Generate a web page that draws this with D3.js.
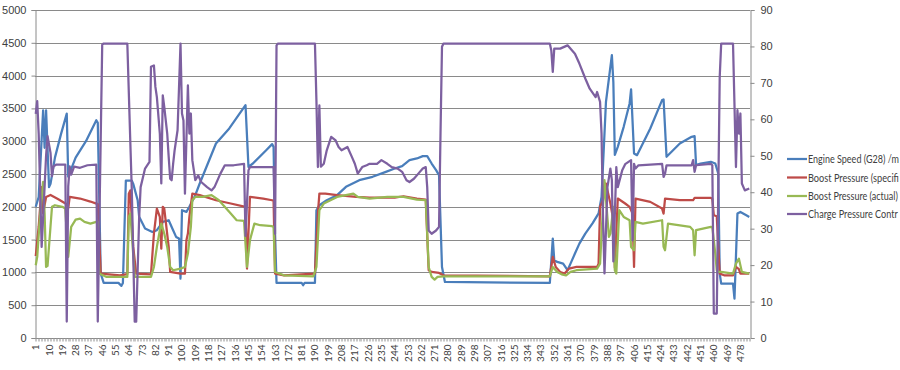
<!DOCTYPE html>
<html>
<head>
<meta charset="utf-8">
<script src="https://cdnjs.cloudflare.com/ajax/libs/d3/7.8.5/d3.min.js"></script>
<style>
  html, body { margin: 0; padding: 0; background: #fff; }
  svg { display: block; font-family: Lato, "Liberation Sans", sans-serif; }
  .lbl { fill: #404040; font-size: 11px; }
  .xlbl { fill: #404040; font-size: 10px; }
</style>
</head>
<body>
<svg id="chart" width="900" height="370"></svg>
<script>
// values: [sample #, value]
const categoryCount = 484;
const xTickLabels = [1, 10, 19, 28, 37, 46, 55, 64, 73, 82, 91, 100, 109, 118, 127, 136, 145, 154, 163, 172, 181, 190,
  199, 208, 217, 226, 235, 244, 253, 262, 271, 280, 289, 298, 307, 316, 325, 334, 343, 352, 361, 370, 379, 388, 397,
  406, 415, 424, 433, 442, 451, 460, 469, 478];
const leftTicks = [0, 500, 1000, 1500, 2000, 2500, 3000, 3500, 4000, 4500, 5000];
const rightTicks = [0, 10, 20, 30, 40, 50, 60, 70, 80, 90];
// legend texts as far as they show before the picture's right edge
const seriesNames = ["Engine Speed (G28)  /m", "Boost Pressure (specifi", "Boost Pressure (actual)", "Charge Pressure Contr"];

const engineSpeed = [[1,2000],[3,2150],[6,3470],[7,2900],[8,3470],[10,2300],[11,2350],[14,2750],[18,3100],[22,3420],
  [23,2460],[28,2750],[35,3000],[42,3320],[43,3280],[45,980],[47,840],[57,840],[59,795],[60,840],[62,2400],[66,2400],
  [67,2350],[70,2100],[71,1850],[75,1670],[80,1617],[83,1643],[87,1770],[91,1795],[94,1643],[96,1541],[98,1516],
  [99,905],[100,1948],[103,1922],[105,2000],[109,2177],[112,2355],[123,2965],[132,3194],[143,3550],[145,2609],
  [148,2660],[157,2863],[161,2955],[162,2914],[163,1592],[164,839],[181,839],[182,804],[183,839],[190,839],[191,1948],
  [193,2024],[198,2100],[205,2177],[211,2304],[220,2406],[229,2457],[238,2533],[244,2584],[249,2620],[254,2711],
  [259,2737],[263,2772],[266,2772],[269,2660],[272,2559],[274,2482],[276,1083],[278,854],[349,839],[351,1516],
  [352,1185],[354,1160],[358,1134],[361,1033],[363,1134],[366,1287],[369,1439],[373,1592],[378,1750],[382,1900],
  [384,2150],[387,3600],[391,4313],[392,3900],[393,2790],[395,2914],[399,3219],[403,3575],[404,3790],[406,2813],
  [408,2787],[417,3194],[425,3626],[426,3636],[428,2762],[437,2965],[445,3067],[447,3077],[448,2635],[451,2660],
  [458,2686],[461,2660],[463,2508],[464,982],[465,829],[473,829],[474,600],[476,1897],[478,1922],[482,1872],[484,1846]];

const boostSpecified = [[1,1250],[3,1700],[5,2300],[6,1900],[8,2150],[11,2180],[16,2120],[22,2040],[23,1980],[24,2150],
  [31,2126],[38,2080],[43,2040],[45,982],[58,956],[63,975],[64,2200],[65,2250],[67,1389],[69,982],[79,971],[81,1592],
  [83,1973],[85,1846],[86,1363],[87,2000],[88,1973],[91,1389],[92,1007],[99,982],[102,982],[103,1490],[104,1592],
  [105,1846],[107,2202],[112,2177],[123,2100],[133,2050],[143,2000],[144,1058],[146,2151],[155,2126],[161,2100],
  [162,2090],[163,982],[169,956],[190,982],[192,1897],[193,2202],[197,2202],[205,2177],[218,2151],[227,2141],
  [244,2141],[250,2161],[259,2126],[265,2110],[267,1033],[269,1007],[274,992],[277,956],[349,941],[351,1236],
  [353,1083],[356,1007],[359,982],[362,1058],[367,1083],[381,1083],[382,1134],[383,2000],[385,2100],[387,2355],
  [390,2050],[392,1795],[393,1070],[395,2126],[400,2050],[403,2000],[405,1897],[406,1083],[407,2126],[417,2075],
  [425,1973],[426,1897],[427,2126],[437,2100],[446,2100],[447,2136],[458,2136],[459,2120],[460,1872],[462,1856],
  [464,982],[467,956],[473,956],[475,1083],[477,1050],[478,982],[484,982]];

const boostActual = [[1,1109],[2,1236],[4,1897],[6,2380],[7,1900],[8,1083],[9,1100],[11,1700],[12,2000],[14,2024],
  [19,2000],[21,1973],[22,1592],[23,1236],[25,1694],[28,1805],[31,1821],[34,1770],[38,1744],[42,1770],[43,1765],
  [44,982],[49,931],[63,931],[64,1846],[65,1897],[66,1600],[68,931],[79,931],[81,1083],[83,1389],[85,1643],[86,1744],
  [88,1592],[90,1389],[92,1083],[94,1033],[99,1058],[102,1083],[104,1287],[106,1694],[107,2100],[109,2151],
  [114,2151],[120,2177],[125,2100],[128,2024],[133,1897],[137,1795],[142,1785],[144,1083],[146,1490],[149,1744],
  [153,1719],[161,1704],[162,1690],[163,1007],[169,956],[189,941],[191,1083],[193,1948],[196,2050],[205,2151],
  [216,2202],[219,2151],[227,2126],[239,2151],[250,2151],[259,2110],[265,2100],[267,1083],[269,931],[271,890],
  [273,931],[277,941],[349,941],[351,1083],[354,1007],[357,971],[360,956],[363,1007],[367,1033],[381,1058],
  [383,1134],[385,2000],[386,2406],[389,1541],[390,1592],[392,2000],[393,1033],[394,982],[396,1948],[399,1846],
  [403,1795],[404,1389],[406,1338],[407,1770],[412,1744],[425,1795],[426,1389],[427,1338],[429,1744],[444,1694],
  [446,1643],[447,1261],[448,1643],[458,1694],[459,1690],[461,1287],[462,1033],[463,1007],[465,1007],[473,982],
  [475,1134],[477,1210],[479,1007],[484,982]];

const chargeControl = [[1,61.5],[2,65],[3,56],[5,25],[6,33],[8,50],[9,55.4],[11,50.8],[12,44.4],[13,47.1],[15,47.6],
  [21,47.6],[22,4.5],[23,41.6],[24,47.1],[25,44.8],[27,47],[31,46.7],[36,47.4],[42,47.6],[43,4.5],[46,80.5],[47,80.8],
  [63,80.8],[65,54],[66,41],[68,4.5],[69,4.5],[71,33],[72,41.4],[75,46.5],[78,48.3],[79,74.4],[81,74.8],[82,68.9],
  [83,66.1],[85,56.1],[86,42.4],[87,66.6],[88,63.4],[90,56.1],[91,49.7],[92,43.7],[93,43.3],[94,47.8],[95,51.5],
  [97,57],[99,80.8],[100,61.6],[101,59.7],[102,39.6],[104,69.3],[105,56.1],[106,61.6],[107,48.8],[109,43.3],
  [111,44.6],[113,42.8],[117,41.4],[120,40.5],[122,41.4],[126,45.1],[129,47.4],[135,47.4],[142,47.8],[143,28],
  [145,46],[146,46.9],[151,46.9],[162,46.9],[163,28.6],[164,80.3],[165,80.8],[190,80.8],[191,65.2],[192,46.9],
  [193,63.8],[194,47],[196,47.8],[198,51.5],[201,55.2],[204,54.2],[206,52.4],[208,51.5],[212,52.4],[215,49.7],
  [217,47.8],[219,45.1],[222,46.9],[225,47.4],[227,47.8],[232,47.8],[235,48.8],[239,47.8],[242,46.9],[246,46.5],
  [249,45.6],[252,43.3],[254,42.8],[257,43.7],[260,45.1],[263,46.5],[265,46.9],[266,41.4],[267,29.5],[269,28.6],
  [272,29.5],[274,30.5],[275,56.1],[276,79.9],[277,80.8],[349,80.8],[350,78.9],[351,73],[352,79.4],[356,79.4],
  [361,80.3],[366,78],[369,75.3],[373,71.2],[376,68.4],[380,66.1],[381,67.5],[383,64.8],[384,56.1],[385,33.2],
  [386,17.7],[388,41.4],[390,46.5],[391,43.3],[392,21],[394,46.9],[395,41.4],[398,46],[400,47.7],[404,48.8],
  [405,26.8],[406,47.8],[407,46.5],[409,47.4],[425,47.8],[426,44.2],[427,45.1],[428,47.4],[445,47.4],[446,48.8],
  [447,45.6],[448,47.4],[458,47.8],[459,47.4],[460,6.7],[462,6.7],[464,71.6],[465,80.8],[473,80.8],[475,46.9],
  [476,62.5],[477,56.1],[478,61.6],[479,42.4],[481,40.5],[484,41]];

const plot = { left: 35, right: 750, top: 10, bottom: 338 };
const svg = d3.select("#chart");

const x = d3.scaleBand().domain(d3.range(1, categoryCount + 1)).range([plot.left, plot.right]).padding(0);
const xc = c => x(c) + x.bandwidth() / 2;
const yL = d3.scaleLinear().domain([0, 5000]).range([plot.bottom, plot.top]);
const yR = d3.scaleLinear().domain([0, 90]).range([plot.bottom, plot.top]);

// gridlines
svg.append("g")
  .selectAll("line")
  .data(leftTicks.filter(t => t > 0))
  .enter()
  .append("line")
  .attr("x1", plot.left).attr("x2", plot.right)
  .attr("y1", d => Math.round(yL(d)) + 0.5).attr("y2", d => Math.round(yL(d)) + 0.5)
  .attr("stroke", "#8a8a8a").attr("stroke-width", 1);

// left axis
const leftAxis = svg.append("g")
  .attr("transform", `translate(${plot.left + 0.5},0)`)
  .call(d3.axisLeft(yL).tickValues(leftTicks).tickSize(4).tickPadding(5).tickFormat(d3.format("d")));
leftAxis.select(".domain").attr("stroke", "#8a8a8a");
leftAxis.selectAll(".tick line").attr("stroke", "#8a8a8a");
leftAxis.selectAll("text").attr("class", "lbl").attr("font-family", null).attr("font-size", null).attr("fill", null);

// right axis
const rightAxis = svg.append("g")
  .attr("transform", `translate(${plot.right + 0.5},0)`)
  .call(d3.axisRight(yR).tickValues(rightTicks).tickSize(4).tickPadding(6));
rightAxis.select(".domain").attr("stroke", "#8a8a8a");
rightAxis.selectAll(".tick line").attr("stroke", "#8a8a8a");
rightAxis.selectAll("text").attr("class", "lbl").attr("font-family", null).attr("font-size", null).attr("fill", null);

// category axis
const xAxis = svg.append("g").attr("transform", `translate(0,${plot.bottom + 0.5})`);
xAxis.append("line")
  .attr("x1", plot.left).attr("x2", plot.right)
  .attr("stroke", "#8a8a8a");
xAxis.selectAll("line.minor")
  .data(d3.range(1, categoryCount + 2))
  .enter()
  .append("line")
  .attr("class", "minor")
  .attr("x1", d => Math.round(d <= categoryCount ? x(d) : plot.right) + 0.5)
  .attr("x2", d => Math.round(d <= categoryCount ? x(d) : plot.right) + 0.5)
  .attr("y1", 0).attr("y2", 3)
  .attr("stroke", "#a0a0a0").attr("stroke-width", 0.6);
xAxis.selectAll("text")
  .data(xTickLabels)
  .enter()
  .append("text")
  .attr("class", "xlbl")
  .attr("transform", d => `translate(${xc(d) + 3.5},6) rotate(-90)`)
  .attr("text-anchor", "end")
  .text(d => d);

// series
const series = [
  { data: engineSpeed, y: yL, color: "#4a7ebb" },
  { data: boostSpecified, y: yL, color: "#be4b48" },
  { data: boostActual, y: yL, color: "#98b954" },
  { data: chargeControl, y: yR, color: "#7d60a0" }
];

series.forEach(s => {
  svg.append("path")
    .datum(s.data)
    .attr("fill", "none")
    .attr("stroke", s.color)
    .attr("stroke-width", 2.25)
    .attr("stroke-linejoin", "round")
    .attr("d", d3.line().x(d => xc(d[0])).y(d => s.y(d[1])));
});

// legend (text squeezed horizontally to the width it has in the reference)
const legend = svg.append("g");
const legendRows = [159, 177.5, 196, 214];
const legendWidths = [91, 91, 90, 90];
series.forEach((s, i) => {
  legend.append("line")
    .attr("x1", 787).attr("x2", 807)
    .attr("y1", legendRows[i]).attr("y2", legendRows[i])
    .attr("stroke", s.color).attr("stroke-width", 2.25);
  const t = legend.append("text")
    .attr("class", "lbl")
    .attr("x", 0).attr("y", 0)
    .text(seriesNames[i]);
  const k = legendWidths[i] / t.node().getComputedTextLength();
  t.attr("transform", `translate(808,${legendRows[i] + 4}) scale(${k},1)`);
});
</script>
</body>
</html>
